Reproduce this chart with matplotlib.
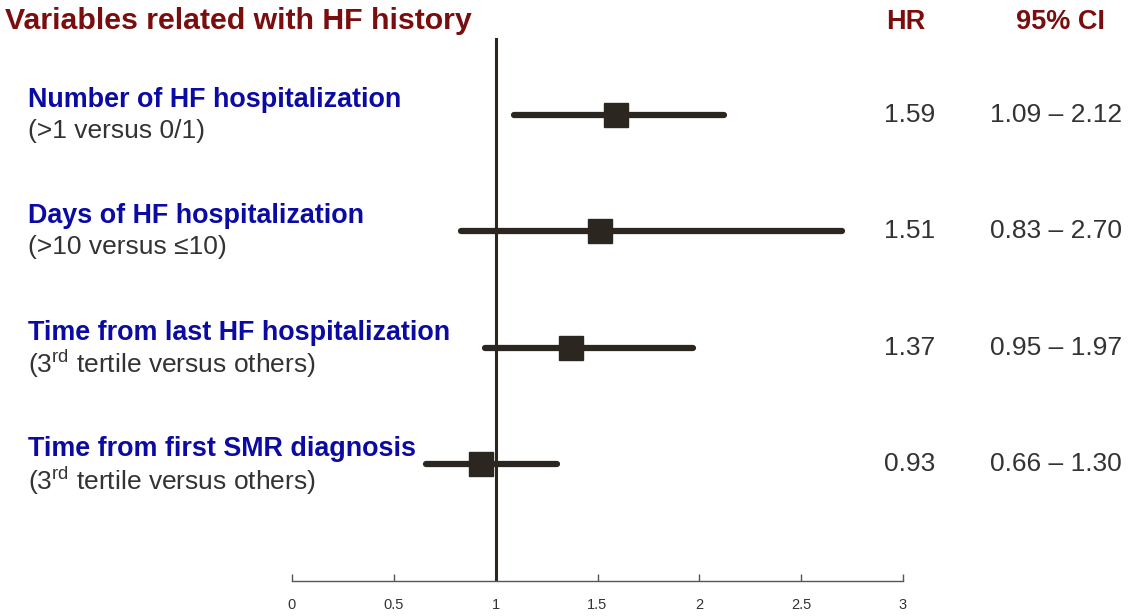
import matplotlib
matplotlib.use("Agg")
import matplotlib.pyplot as plt

plt.rcParams['font.family'] = ['Liberation Sans', 'DejaVu Sans']
plt.rcParams['mathtext.fontset'] = 'custom'
plt.rcParams['mathtext.rm'] = 'Liberation Sans'

# Data
variables = ['Number of HF hospitalization',
             'Days of HF hospitalization',
             'Time from last HF hospitalization',
             'Time from first SMR diagnosis']
comparisons = ['(>1 versus 0/1)',
               '(>10 versus \u226410)',
               r'(3$^{\mathrm{rd}}$ tertile versus others)',
               r'(3$^{\mathrm{rd}}$ tertile versus others)']
hr = [1.59, 1.51, 1.37, 0.93]
ci_low = [1.09, 0.83, 0.95, 0.66]
ci_high = [2.12, 2.70, 1.97, 1.30]
xticks = [0, 0.5, 1, 1.5, 2, 2.5, 3]

title_red = '#7a0d0d'
label_blue = '#0b0ba3'
text_gray = '#333333'
mark = '#2b2720'

fig = plt.figure(figsize=(11.3, 6.16), dpi=100)
ax = fig.add_axes([292 / 1130, 1 - 581 / 616, 611 / 1130, (581 - 38) / 616])

rows = list(range(len(variables)))
ax.hlines(rows, ci_low, ci_high, color=mark, lw=4.5, capstyle='round')
ax.plot(hr, rows, 's', color=mark, ms=17, mec=mark)
ax.axvline(1, color=mark, lw=2.2)

ax.set_xlim(0, 3)
ax.set_ylim(4.0, -0.66)
ax.set_xticks(xticks)
ax.set_xticklabels([f'{t:g}' for t in xticks])
ax.tick_params(axis='x', direction='in', length=5, width=1, colors='#555555',
               labelsize=10.5, pad=12, labelcolor='#333333')
ax.set_yticks([])
for s in ['top', 'left', 'right']:
    ax.spines[s].set_visible(False)
ax.spines['bottom'].set_color('#555555')
ax.spines['bottom'].set_linewidth(1)

# Titles and column headers
fig.text(5 / 1130, 1 - 21 / 616, 'Variables related with HF history', color=title_red,
         fontsize=21.8, fontweight='bold', va='center', ha='left')
fig.text(906 / 1130, 1 - 22 / 616, 'HR', color=title_red, fontsize=19.5,
         fontweight='bold', va='center', ha='center')
fig.text(1060 / 1130, 1 - 22 / 616, '95% CI', color=title_red, fontsize=19.5,
         fontweight='bold', va='center', ha='center')

# Row labels and estimates
for i in rows:
    ax.annotate(variables[i], (0, i), xycoords=('figure fraction', 'data'),
                xytext=(28 * 0.72, 15 * 0.72), textcoords='offset points',
                color=label_blue, fontsize=19.4, fontweight='bold', va='center', ha='left')
    ax.annotate(comparisons[i], (0, i), xycoords=('figure fraction', 'data'),
                xytext=(28 * 0.72, -16 * 0.72), textcoords='offset points',
                color=text_gray, fontsize=19, va='center', ha='left')
    ax.annotate(f'{hr[i]:.2f}', (910 / 1130, i), xycoords=('figure fraction', 'data'),
                color=text_gray, fontsize=19, va='center', ha='center',
                annotation_clip=False)
    ax.annotate(f'{ci_low[i]:.2f} \u2013 {ci_high[i]:.2f}', (1056 / 1130, i),
                xycoords=('figure fraction', 'data'),
                color=text_gray, fontsize=19, va='center', ha='center',
                annotation_clip=False)

fig.savefig('out.png', dpi=100)
